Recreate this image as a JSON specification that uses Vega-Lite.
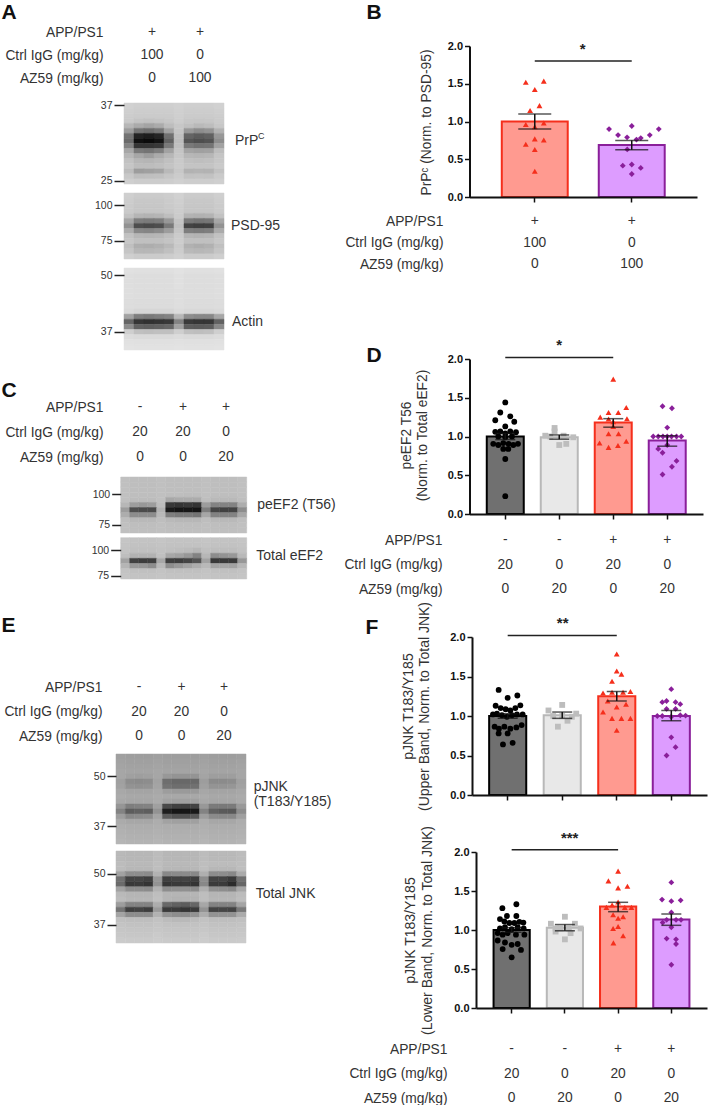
{"$schema":"https://vega.github.io/schema/vega-lite/v6.json","width":709,"height":1105,"autosize":"none","padding":0,"background":"white",
"config":{"font":"Liberation Sans","view":{"stroke":null},"axis":{"grid":false,"labelFont":"Liberation Sans","titleFont":"Liberation Sans"}},
"resolve":{"scale":{"x":"independent","y":"independent","fill":"independent","stroke":"independent","color":"independent","shape":"independent"},"axis":{"x":"independent","y":"independent"}},
"layer":[
{"data":{"values":[{"lane":"L1","row":"APP/PS1","v":"+"},{"lane":"L2","row":"APP/PS1","v":"+"},{"lane":"L1","row":"Ctrl IgG (mg/kg)","v":"100"},{"lane":"L2","row":"Ctrl IgG (mg/kg)","v":"0"},{"lane":"L1","row":"AZ59 (mg/kg)","v":"0"},{"lane":"L2","row":"AZ59 (mg/kg)","v":"100"}]},"mark":{"type":"text","fontSize":13.8,"color":"#333","baseline":"middle"},"encoding":{"x":{"field":"lane","type":"nominal","scale":{"type":"point","padding":0,"domain":["L1","L2"],"range":[152,200]},"axis":null},"y":{"field":"row","type":"nominal","scale":{"type":"point","padding":0,"domain":["APP/PS1","Ctrl IgG (mg/kg)","AZ59 (mg/kg)"],"range":[32,78]},"axis":{"orient":"left","offset":-103,"domain":false,"ticks":false,"tickSize":0,"labelPadding":0,"labelFontSize":13.8,"labelColor":"#333","labelLimit":300,"title":"A","titleAngle":0,"titleX":-102,"titleY":12,"titleAlign":"left","titleBaseline":"middle","titleFontSize":21,"titleFontWeight":"bold","titleColor":"#111"}},"text":{"field":"v","type":"nominal"}}},
{"layer":[
{"data":{"values":[
{"s":1,"a":214,"b":212,"c":212,"d":212,"e":212,"f":214,"g":212,"h":212,"i":212,"j":214},
{"s":2,"a":212,"b":210,"c":210,"d":210,"e":210,"f":213,"g":210,"h":210,"i":210,"j":212},
{"s":3,"a":210,"b":208,"c":208,"d":208,"e":208,"f":212,"g":208,"h":208,"i":208,"j":210},
{"s":4,"a":207,"b":202,"c":200,"d":202,"e":205,"f":210,"g":205,"h":204,"i":205,"j":208},
{"s":5,"a":190,"b":178,"c":172,"d":178,"e":195,"f":205,"g":198,"h":192,"i":195,"j":205},
{"s":6,"a":165,"b":125,"c":118,"d":128,"e":170,"f":203,"g":160,"h":150,"i":155,"j":185},
{"s":7,"a":125,"b":35,"c":28,"d":38,"e":120,"f":198,"g":108,"h":100,"i":105,"j":160},
{"s":8,"a":115,"b":12,"c":8,"d":15,"e":105,"f":195,"g":92,"h":85,"i":90,"j":150},
{"s":9,"a":140,"b":55,"c":55,"d":60,"e":130,"f":198,"g":130,"h":122,"i":125,"j":170},
{"s":10,"a":175,"b":130,"c":125,"d":135,"e":170,"f":203,"g":172,"h":168,"i":170,"j":195},
{"s":11,"a":190,"b":175,"c":165,"d":178,"e":190,"f":205,"g":190,"h":188,"i":190,"j":203},
{"s":12,"a":200,"b":190,"c":188,"d":192,"e":198,"f":207,"g":198,"h":196,"i":198,"j":205},
{"s":13,"a":204,"b":195,"c":195,"d":197,"e":202,"f":208,"g":202,"h":202,"i":202,"j":207},
{"s":14,"a":195,"b":165,"c":168,"d":172,"e":192,"f":206,"g":185,"h":187,"i":186,"j":200},
{"s":15,"a":206,"b":196,"c":197,"d":198,"e":204,"f":209,"g":200,"h":201,"i":200,"j":207},
{"s":16,"a":212,"b":209,"c":209,"d":209,"e":210,"f":213,"g":210,"h":210,"i":210,"j":212}]},
"transform":[{"fold":["a","b","c","d","e","f","g","h","i","j"],"as":["col","gray"]}],"mark":{"type":"rect","strokeWidth":0.5},"encoding":{"x":{"field":"col","type":"nominal","scale":{"type":"band","domain":["a","b","c","d","e","f","g","h","i","j","lab"],"range":[124,234],"padding":0},"axis":null},"y":{"field":"s","type":"ordinal","scale":{"type":"band","range":[103,184],"padding":0},"axis":{"orient":"left","offset":-124,"values":[1,16],"labelExpr":"datum.value==1?'37':'25'","domain":false,"tickSize":10,"tickWidth":1.5,"tickColor":"#222","labelPadding":2,"labelFontSize":10.5,"labelColor":"#333","title":null}},"fill":{"field":"gray","type":"quantitative","scale":{"domain":[0,255],"range":["#000","#fff"]},"legend":null},"stroke":{"field":"gray","type":"quantitative","scale":{"domain":[0,255],"range":["#000","#fff"]},"legend":null}}},
{"data":{"values":[{"name":"PrP","col":"lab","s":8}]},"mark":{"type":"text","fontSize":14,"color":"#333","align":"left","baseline":"middle","dx":6},"encoding":{"x":{"field":"col","type":"nominal","scale":{"type":"band"},"axis":null},"y":{"field":"s","type":"ordinal","scale":{"type":"band"}},"text":{"field":"name","type":"nominal"}}},
{"data":{"values":[{"name":"C","col":"lab","s":8}]},"mark":{"type":"text","fontSize":9,"color":"#333","align":"left","baseline":"middle","dx":29,"dy":-5},"encoding":{"x":{"field":"col","type":"nominal","scale":{"type":"band"},"axis":null},"y":{"field":"s","type":"ordinal","scale":{"type":"band"}},"text":{"field":"name","type":"nominal"}}}
]},
{"layer":[
{"data":{"values":[
{"s":1,"a":212,"b":208,"c":208,"d":208,"e":210,"f":214,"g":208,"h":208,"i":208,"j":212},
{"s":2,"a":210,"b":206,"c":206,"d":206,"e":208,"f":212,"g":206,"h":206,"i":206,"j":210},
{"s":3,"a":208,"b":205,"c":205,"d":205,"e":207,"f":211,"g":205,"h":205,"i":205,"j":208},
{"s":4,"a":207,"b":204,"c":204,"d":204,"e":206,"f":210,"g":204,"h":204,"i":204,"j":207},
{"s":5,"a":200,"b":188,"c":186,"d":188,"e":196,"f":208,"g":186,"h":184,"i":186,"j":200},
{"s":6,"a":175,"b":135,"c":132,"d":135,"e":160,"f":202,"g":130,"h":125,"i":128,"j":175},
{"s":7,"a":155,"b":85,"c":80,"d":85,"e":130,"f":198,"g":72,"h":68,"i":70,"j":155},
{"s":8,"a":180,"b":145,"c":142,"d":148,"e":165,"f":203,"g":135,"h":132,"i":135,"j":178},
{"s":9,"a":200,"b":190,"c":188,"d":190,"e":196,"f":208,"g":188,"h":186,"i":188,"j":200},
{"s":10,"a":205,"b":198,"c":198,"d":198,"e":202,"f":210,"g":198,"h":198,"i":198,"j":205},
{"s":11,"a":198,"b":182,"c":180,"d":184,"e":192,"f":207,"g":184,"h":180,"i":184,"j":198},
{"s":12,"a":203,"b":190,"c":190,"d":192,"e":198,"f":210,"g":192,"h":190,"i":192,"j":203},
{"s":13,"a":212,"b":208,"c":208,"d":208,"e":210,"f":214,"g":208,"h":208,"i":208,"j":212}]},
"transform":[{"fold":["a","b","c","d","e","f","g","h","i","j"],"as":["col","gray"]}],"mark":{"type":"rect","strokeWidth":0.5},"encoding":{"x":{"field":"col","type":"nominal","scale":{"type":"band","domain":["a","b","c","d","e","f","g","h","i","j","lab"],"range":[124,234],"padding":0},"axis":null},"y":{"field":"s","type":"ordinal","scale":{"type":"band","range":[193,259],"padding":0},"axis":{"orient":"left","offset":-124,"values":[3,10],"labelExpr":"datum.value==3?'100':'75'","domain":false,"tickSize":10,"tickWidth":1.5,"tickColor":"#222","labelPadding":2,"labelFontSize":10.5,"labelColor":"#333","title":null}},"fill":{"field":"gray","type":"quantitative","scale":{"domain":[0,255],"range":["#000","#fff"]},"legend":null},"stroke":{"field":"gray","type":"quantitative","scale":{"domain":[0,255],"range":["#000","#fff"]},"legend":null}}},
{"data":{"values":[{"name":"PSD-95","col":"lab","s":7}]},"mark":{"type":"text","fontSize":14,"color":"#333","align":"left","baseline":"middle","dx":2},"encoding":{"x":{"field":"col","type":"nominal","scale":{"type":"band"},"axis":null},"y":{"field":"s","type":"ordinal","scale":{"type":"band"}},"text":{"field":"name","type":"nominal"}}}
]},
{"layer":[
{"data":{"values":[
{"s":1,"a":228,"b":227,"c":227,"d":227,"e":227,"f":229,"g":227,"h":227,"i":227,"j":228},
{"s":2,"a":226,"b":225,"c":225,"d":225,"e":225,"f":227,"g":225,"h":225,"i":225,"j":226},
{"s":3,"a":226,"b":225,"c":225,"d":225,"e":225,"f":227,"g":225,"h":225,"i":225,"j":226},
{"s":4,"a":226,"b":225,"c":225,"d":225,"e":225,"f":227,"g":225,"h":225,"i":225,"j":226},
{"s":5,"a":226,"b":225,"c":225,"d":225,"e":225,"f":226,"g":225,"h":225,"i":225,"j":226},
{"s":6,"a":226,"b":225,"c":225,"d":225,"e":225,"f":226,"g":225,"h":225,"i":225,"j":226},
{"s":7,"a":225,"b":224,"c":224,"d":224,"e":224,"f":226,"g":224,"h":224,"i":224,"j":225},
{"s":8,"a":225,"b":224,"c":224,"d":224,"e":224,"f":226,"g":224,"h":224,"i":224,"j":225},
{"s":9,"a":222,"b":218,"c":218,"d":218,"e":218,"f":223,"g":220,"h":220,"i":220,"j":222},
{"s":10,"a":170,"b":135,"c":130,"d":135,"e":140,"f":190,"g":150,"h":145,"i":145,"j":175},
{"s":11,"a":110,"b":58,"c":52,"d":55,"e":60,"f":140,"g":62,"h":58,"i":58,"j":105},
{"s":12,"a":150,"b":105,"c":102,"d":105,"e":110,"f":170,"g":100,"h":98,"i":100,"j":145},
{"s":13,"a":212,"b":198,"c":196,"d":198,"e":198,"f":212,"g":198,"h":196,"i":198,"j":212},
{"s":14,"a":224,"b":222,"c":222,"d":222,"e":222,"f":224,"g":222,"h":222,"i":222,"j":224},
{"s":15,"a":228,"b":227,"c":227,"d":227,"e":227,"f":228,"g":227,"h":227,"i":227,"j":228},
{"s":16,"a":230,"b":229,"c":229,"d":229,"e":229,"f":230,"g":229,"h":229,"i":229,"j":230}]},
"transform":[{"fold":["a","b","c","d","e","f","g","h","i","j"],"as":["col","gray"]}],"mark":{"type":"rect","strokeWidth":0.5},"encoding":{"x":{"field":"col","type":"nominal","scale":{"type":"band","domain":["a","b","c","d","e","f","g","h","i","j","lab"],"range":[124,234],"padding":0},"axis":null},"y":{"field":"s","type":"ordinal","scale":{"type":"band","range":[268,350],"padding":0},"axis":{"orient":"left","offset":-124,"values":[2,13],"labelExpr":"datum.value==2?'50':'37'","domain":false,"tickSize":10,"tickWidth":1.5,"tickColor":"#222","labelPadding":2,"labelFontSize":10.5,"labelColor":"#333","title":null}},"fill":{"field":"gray","type":"quantitative","scale":{"domain":[0,255],"range":["#000","#fff"]},"legend":null},"stroke":{"field":"gray","type":"quantitative","scale":{"domain":[0,255],"range":["#000","#fff"]},"legend":null}}},
{"data":{"values":[{"name":"Actin","col":"lab","s":11}]},"mark":{"type":"text","fontSize":14,"color":"#333","align":"left","baseline":"middle","dx":3},"encoding":{"x":{"field":"col","type":"nominal","scale":{"type":"band"},"axis":null},"y":{"field":"s","type":"ordinal","scale":{"type":"band"}},"text":{"field":"name","type":"nominal"}}}
]},
{"data":{"values":[{"lane":"L1","row":"APP/PS1","v":"-"},{"lane":"L2","row":"APP/PS1","v":"+"},{"lane":"L3","row":"APP/PS1","v":"+"},{"lane":"L1","row":"Ctrl IgG (mg/kg)","v":"20"},{"lane":"L2","row":"Ctrl IgG (mg/kg)","v":"20"},{"lane":"L3","row":"Ctrl IgG (mg/kg)","v":"0"},{"lane":"L1","row":"AZ59 (mg/kg)","v":"0"},{"lane":"L2","row":"AZ59 (mg/kg)","v":"0"},{"lane":"L3","row":"AZ59 (mg/kg)","v":"20"}]},"mark":{"type":"text","fontSize":13.8,"color":"#333","baseline":"middle"},"encoding":{"x":{"field":"lane","type":"nominal","scale":{"type":"point","padding":0,"domain":["L1","L2","L3"],"range":[140,226]},"axis":null},"y":{"field":"row","type":"nominal","scale":{"type":"point","padding":0,"domain":["APP/PS1","Ctrl IgG (mg/kg)","AZ59 (mg/kg)"],"range":[407,457]},"axis":{"orient":"left","offset":-103,"domain":false,"ticks":false,"tickSize":0,"labelPadding":0,"labelFontSize":13.8,"labelColor":"#333","labelLimit":300,"title":"C","titleAngle":0,"titleX":-102,"titleY":390,"titleAlign":"left","titleBaseline":"middle","titleFontSize":21,"titleFontWeight":"bold","titleColor":"#111"}},"text":{"field":"v","type":"nominal"}}},
{"layer":[
{"data":{"values":[
{"s":1,"a":198,"b":196,"c":196,"d":196,"e":198,"f":196,"g":196,"h":196,"i":196,"j":198,"k":196,"l":196,"m":196,"n":198},
{"s":2,"a":198,"b":196,"c":196,"d":196,"e":198,"f":196,"g":196,"h":196,"i":196,"j":198,"k":196,"l":196,"m":196,"n":198},
{"s":3,"a":198,"b":196,"c":196,"d":196,"e":198,"f":196,"g":196,"h":196,"i":196,"j":198,"k":196,"l":196,"m":196,"n":198},
{"s":4,"a":198,"b":196,"c":196,"d":196,"e":198,"f":196,"g":196,"h":195,"i":195,"j":198,"k":196,"l":196,"m":196,"n":198},
{"s":5,"a":198,"b":194,"c":194,"d":194,"e":198,"f":175,"g":178,"h":178,"i":178,"j":196,"k":192,"l":192,"m":192,"n":196},
{"s":6,"a":190,"b":165,"c":160,"d":165,"e":195,"f":60,"g":55,"h":60,"i":55,"j":165,"k":140,"l":140,"m":140,"n":180},
{"s":7,"a":165,"b":85,"c":80,"d":80,"e":185,"f":25,"g":18,"h":20,"i":18,"j":135,"k":75,"l":70,"m":72,"n":150},
{"s":8,"a":180,"b":150,"c":150,"d":150,"e":192,"f":135,"g":130,"h":130,"i":125,"j":175,"k":140,"l":140,"m":140,"n":175},
{"s":9,"a":196,"b":192,"c":192,"d":192,"e":196,"f":192,"g":190,"h":190,"i":190,"j":196,"k":192,"l":192,"m":192,"n":196},
{"s":10,"a":198,"b":196,"c":196,"d":196,"e":198,"f":196,"g":196,"h":196,"i":196,"j":198,"k":196,"l":196,"m":196,"n":198},
{"s":11,"a":198,"b":197,"c":197,"d":197,"e":198,"f":197,"g":197,"h":197,"i":197,"j":198,"k":197,"l":197,"m":197,"n":198}]},
"transform":[{"fold":["a","b","c","d","e","f","g","h","i","j","k","l","m","n"],"as":["col","gray"]}],"mark":{"type":"rect","strokeWidth":0.5},"encoding":{"x":{"field":"col","type":"nominal","scale":{"type":"band","domain":["a","b","c","d","e","f","g","h","i","j","k","l","m","n","lab"],"range":[120.7,255.7],"padding":0},"axis":null},"y":{"field":"s","type":"ordinal","scale":{"type":"band","range":[477,533],"padding":0},"axis":{"orient":"left","offset":-120.7,"values":[4,10],"labelExpr":"datum.value==4?'100':'75'","domain":false,"tickSize":9,"tickWidth":1.5,"tickColor":"#222","labelPadding":2,"labelFontSize":10.5,"labelColor":"#333","title":null}},"fill":{"field":"gray","type":"quantitative","scale":{"domain":[0,255],"range":["#000","#fff"]},"legend":null},"stroke":{"field":"gray","type":"quantitative","scale":{"domain":[0,255],"range":["#000","#fff"]},"legend":null}}},
{"data":{"values":[{"name":"peEF2 (T56)","col":"lab","s":6}]},"mark":{"type":"text","fontSize":14,"color":"#333","align":"left","baseline":"middle","dx":6},"encoding":{"x":{"field":"col","type":"nominal","scale":{"type":"band"},"axis":null},"y":{"field":"s","type":"ordinal","scale":{"type":"band"}},"text":{"field":"name","type":"nominal"}}}
]},
{"layer":[
{"data":{"values":[
{"s":1,"a":203,"b":201,"c":201,"d":201,"e":203,"f":201,"g":201,"h":201,"i":201,"j":203,"k":201,"l":201,"m":201,"n":203},
{"s":2,"a":202,"b":200,"c":200,"d":200,"e":202,"f":200,"g":200,"h":200,"i":200,"j":202,"k":200,"l":200,"m":200,"n":202},
{"s":3,"a":201,"b":198,"c":198,"d":198,"e":200,"f":198,"g":196,"h":194,"i":190,"j":198,"k":196,"l":196,"m":196,"n":200},
{"s":4,"a":196,"b":185,"c":185,"d":185,"e":198,"f":175,"g":170,"h":160,"i":140,"j":190,"k":150,"l":155,"m":160,"n":192},
{"s":5,"a":170,"b":70,"c":66,"d":68,"e":175,"f":68,"g":66,"h":75,"i":90,"j":170,"k":60,"l":60,"m":62,"n":160},
{"s":6,"a":188,"b":160,"c":158,"d":150,"e":192,"f":150,"g":160,"h":170,"i":180,"j":192,"k":170,"l":172,"m":170,"n":190},
{"s":7,"a":201,"b":198,"c":198,"d":198,"e":201,"f":198,"g":198,"h":198,"i":198,"j":201,"k":198,"l":198,"m":198,"n":201},
{"s":8,"a":203,"b":201,"c":201,"d":201,"e":203,"f":201,"g":201,"h":201,"i":201,"j":203,"k":201,"l":201,"m":201,"n":203}]},
"transform":[{"fold":["a","b","c","d","e","f","g","h","i","j","k","l","m","n"],"as":["col","gray"]}],"mark":{"type":"rect","strokeWidth":0.5},"encoding":{"x":{"field":"col","type":"nominal","scale":{"type":"band","domain":["a","b","c","d","e","f","g","h","i","j","k","l","m","n","lab"],"range":[120.7,255.7],"padding":0},"axis":null},"y":{"field":"s","type":"ordinal","scale":{"type":"band","range":[537.7,579],"padding":0},"axis":{"orient":"left","offset":-120.7,"values":[3,8],"labelExpr":"datum.value==3?'100':'75'","domain":false,"tickSize":10,"tickWidth":1.5,"tickColor":"#222","labelPadding":2,"labelFontSize":10.5,"labelColor":"#333","title":null}},"fill":{"field":"gray","type":"quantitative","scale":{"domain":[0,255],"range":["#000","#fff"]},"legend":null},"stroke":{"field":"gray","type":"quantitative","scale":{"domain":[0,255],"range":["#000","#fff"]},"legend":null}}},
{"data":{"values":[{"name":"Total eEF2","col":"lab","s":4}]},"mark":{"type":"text","fontSize":14,"color":"#333","align":"left","baseline":"middle","dx":5},"encoding":{"x":{"field":"col","type":"nominal","scale":{"type":"band"},"axis":null},"y":{"field":"s","type":"ordinal","scale":{"type":"band"}},"text":{"field":"name","type":"nominal"}}}
]},
{"data":{"values":[{"lane":"L1","row":"APP/PS1","v":"-"},{"lane":"L2","row":"APP/PS1","v":"+"},{"lane":"L3","row":"APP/PS1","v":"+"},{"lane":"L1","row":"Ctrl IgG (mg/kg)","v":"20"},{"lane":"L2","row":"Ctrl IgG (mg/kg)","v":"20"},{"lane":"L3","row":"Ctrl IgG (mg/kg)","v":"0"},{"lane":"L1","row":"AZ59 (mg/kg)","v":"0"},{"lane":"L2","row":"AZ59 (mg/kg)","v":"0"},{"lane":"L3","row":"AZ59 (mg/kg)","v":"20"}]},"mark":{"type":"text","fontSize":13.8,"color":"#333","baseline":"middle"},"encoding":{"x":{"field":"lane","type":"nominal","scale":{"type":"point","padding":0,"domain":["L1","L2","L3"],"range":[139,224]},"axis":null},"y":{"field":"row","type":"nominal","scale":{"type":"point","padding":0,"domain":["APP/PS1","Ctrl IgG (mg/kg)","AZ59 (mg/kg)"],"range":[687,736]},"axis":{"orient":"left","offset":-102,"domain":false,"ticks":false,"tickSize":0,"labelPadding":0,"labelFontSize":13.8,"labelColor":"#333","labelLimit":300,"title":"E","titleAngle":0,"titleX":-101,"titleY":625,"titleAlign":"left","titleBaseline":"middle","titleFontSize":21,"titleFontWeight":"bold","titleColor":"#111"}},"text":{"field":"v","type":"nominal"}}},
{"layer":[
{"data":{"values":[
{"s":1,"a":168,"b":166,"c":166,"d":166,"e":168,"f":166,"g":166,"h":166,"i":166,"j":168,"k":166,"l":166,"m":166,"n":168},
{"s":2,"a":170,"b":168,"c":168,"d":168,"e":170,"f":168,"g":168,"h":168,"i":168,"j":170,"k":168,"l":168,"m":168,"n":170},
{"s":3,"a":172,"b":170,"c":170,"d":170,"e":172,"f":170,"g":170,"h":170,"i":170,"j":172,"k":170,"l":170,"m":170,"n":172},
{"s":4,"a":174,"b":172,"c":172,"d":172,"e":174,"f":172,"g":172,"h":172,"i":172,"j":174,"k":172,"l":172,"m":172,"n":174},
{"s":5,"a":174,"b":168,"c":166,"d":168,"e":174,"f":160,"g":156,"h":156,"i":156,"j":172,"k":166,"l":166,"m":166,"n":174},
{"s":6,"a":168,"b":150,"c":148,"d":150,"e":170,"f":118,"g":112,"h":112,"i":112,"j":165,"k":148,"l":148,"m":150,"n":168},
{"s":7,"a":170,"b":155,"c":153,"d":155,"e":172,"f":124,"g":118,"h":118,"i":120,"j":168,"k":156,"l":156,"m":158,"n":170},
{"s":8,"a":176,"b":172,"c":172,"d":172,"e":176,"f":165,"g":162,"h":162,"i":162,"j":175,"k":172,"l":172,"m":172,"n":176},
{"s":9,"a":178,"b":176,"c":176,"d":176,"e":178,"f":176,"g":176,"h":176,"i":176,"j":178,"k":176,"l":176,"m":176,"n":178},
{"s":10,"a":176,"b":174,"c":174,"d":174,"e":178,"f":170,"g":168,"h":168,"i":168,"j":176,"k":174,"l":174,"m":174,"n":178},
{"s":11,"a":158,"b":135,"c":138,"d":140,"e":168,"f":80,"g":70,"h":68,"i":72,"j":160,"k":132,"l":130,"m":132,"n":162},
{"s":12,"a":140,"b":100,"c":105,"d":102,"e":155,"f":30,"g":20,"h":18,"i":22,"j":140,"k":105,"l":98,"m":95,"n":150},
{"s":13,"a":165,"b":145,"c":148,"d":150,"e":172,"f":100,"g":90,"h":88,"i":95,"j":165,"k":148,"l":145,"m":145,"n":168},
{"s":14,"a":178,"b":175,"c":175,"d":175,"e":180,"f":170,"g":168,"h":168,"i":168,"j":180,"k":175,"l":175,"m":175,"n":180},
{"s":15,"a":182,"b":180,"c":180,"d":180,"e":182,"f":180,"g":180,"h":180,"i":180,"j":182,"k":180,"l":180,"m":180,"n":182},
{"s":16,"a":184,"b":182,"c":182,"d":182,"e":184,"f":182,"g":182,"h":182,"i":182,"j":184,"k":182,"l":182,"m":182,"n":184},
{"s":17,"a":186,"b":184,"c":184,"d":184,"e":186,"f":184,"g":184,"h":184,"i":184,"j":186,"k":184,"l":184,"m":184,"n":186},
{"s":18,"a":188,"b":186,"c":186,"d":186,"e":188,"f":186,"g":186,"h":186,"i":186,"j":188,"k":186,"l":186,"m":186,"n":188}]},
"transform":[{"fold":["a","b","c","d","e","f","g","h","i","j","k","l","m","n"],"as":["col","gray"]}],"mark":{"type":"rect","strokeWidth":0.5},"encoding":{"x":{"field":"col","type":"nominal","scale":{"type":"band","domain":["a","b","c","d","e","f","g","h","i","j","k","l","m","n","lab"],"range":[116,255.3],"padding":0},"axis":null},"y":{"field":"s","type":"ordinal","scale":{"type":"band","range":[754,844],"padding":0},"axis":{"orient":"left","offset":-116,"values":[5,15],"labelExpr":"datum.value==5?'50':'37'","domain":false,"tickSize":9,"tickWidth":1.5,"tickColor":"#222","labelPadding":2,"labelFontSize":10.5,"labelColor":"#333","title":null}},"fill":{"field":"gray","type":"quantitative","scale":{"domain":[0,255],"range":["#000","#fff"]},"legend":null},"stroke":{"field":"gray","type":"quantitative","scale":{"domain":[0,255],"range":["#000","#fff"]},"legend":null}}},
{"data":{"values":[{"name":"pJNK","col":"lab","s":7},{"name":"(T183/Y185)","col":"lab","s":10}]},"mark":{"type":"text","fontSize":14,"color":"#333","align":"left","baseline":"middle","dx":3},"encoding":{"x":{"field":"col","type":"nominal","scale":{"type":"band"},"axis":null},"y":{"field":"s","type":"ordinal","scale":{"type":"band"}},"text":{"field":"name","type":"nominal"}}}
]},
{"layer":[
{"data":{"values":[
{"s":1,"a":192,"b":190,"c":190,"d":190,"e":194,"f":190,"g":190,"h":190,"i":190,"j":194,"k":192,"l":192,"m":192,"n":194},
{"s":2,"a":192,"b":190,"c":190,"d":190,"e":194,"f":190,"g":190,"h":190,"i":190,"j":194,"k":192,"l":192,"m":192,"n":194},
{"s":3,"a":194,"b":192,"c":192,"d":192,"e":196,"f":192,"g":192,"h":192,"i":192,"j":196,"k":194,"l":194,"m":194,"n":196},
{"s":4,"a":194,"b":190,"c":190,"d":190,"e":196,"f":190,"g":190,"h":190,"i":190,"j":196,"k":190,"l":190,"m":190,"n":196},
{"s":5,"a":170,"b":150,"c":150,"d":148,"e":185,"f":145,"g":148,"h":148,"i":145,"j":182,"k":150,"l":150,"m":145,"n":178},
{"s":6,"a":120,"b":72,"c":74,"d":68,"e":160,"f":68,"g":72,"h":72,"i":66,"j":150,"k":72,"l":74,"m":62,"n":120},
{"s":7,"a":115,"b":60,"c":62,"d":55,"e":155,"f":58,"g":62,"h":62,"i":55,"j":145,"k":62,"l":62,"m":45,"n":110},
{"s":8,"a":170,"b":150,"c":150,"d":148,"e":185,"f":150,"g":152,"h":152,"i":148,"j":182,"k":152,"l":150,"m":145,"n":175},
{"s":9,"a":192,"b":188,"c":188,"d":188,"e":196,"f":188,"g":188,"h":188,"i":188,"j":196,"k":188,"l":188,"m":188,"n":194},
{"s":10,"a":194,"b":190,"c":190,"d":190,"e":198,"f":188,"g":186,"h":186,"i":186,"j":196,"k":190,"l":190,"m":190,"n":196},
{"s":11,"a":165,"b":140,"c":140,"d":140,"e":180,"f":112,"g":105,"h":100,"i":110,"j":175,"k":140,"l":140,"m":140,"n":172},
{"s":12,"a":125,"b":68,"c":72,"d":66,"e":162,"f":62,"g":62,"h":55,"i":62,"j":155,"k":72,"l":75,"m":72,"n":130},
{"s":13,"a":172,"b":150,"c":150,"d":150,"e":185,"f":155,"g":150,"h":148,"i":155,"j":180,"k":155,"l":155,"m":155,"n":178},
{"s":14,"a":198,"b":196,"c":196,"d":196,"e":200,"f":194,"g":192,"h":192,"i":194,"j":200,"k":196,"l":196,"m":196,"n":198},
{"s":15,"a":202,"b":200,"c":200,"d":200,"e":203,"f":200,"g":200,"h":200,"i":200,"j":203,"k":200,"l":200,"m":200,"n":202},
{"s":16,"a":204,"b":203,"c":203,"d":203,"e":205,"f":203,"g":203,"h":203,"i":203,"j":205,"k":203,"l":203,"m":203,"n":204},
{"s":17,"a":206,"b":205,"c":205,"d":205,"e":207,"f":205,"g":205,"h":205,"i":205,"j":207,"k":205,"l":205,"m":205,"n":206},
{"s":18,"a":208,"b":207,"c":207,"d":207,"e":209,"f":207,"g":207,"h":207,"i":207,"j":209,"k":207,"l":207,"m":207,"n":208}]},
"transform":[{"fold":["a","b","c","d","e","f","g","h","i","j","k","l","m","n"],"as":["col","gray"]}],"mark":{"type":"rect","strokeWidth":0.5},"encoding":{"x":{"field":"col","type":"nominal","scale":{"type":"band","domain":["a","b","c","d","e","f","g","h","i","j","k","l","m","n","lab"],"range":[116,255.3],"padding":0},"axis":null},"y":{"field":"s","type":"ordinal","scale":{"type":"band","range":[851,943],"padding":0},"axis":{"orient":"left","offset":-116,"values":[5,15],"labelExpr":"datum.value==5?'50':'37'","domain":false,"tickSize":9,"tickWidth":1.5,"tickColor":"#222","labelPadding":2,"labelFontSize":10.5,"labelColor":"#333","title":null}},"fill":{"field":"gray","type":"quantitative","scale":{"domain":[0,255],"range":["#000","#fff"]},"legend":null},"stroke":{"field":"gray","type":"quantitative","scale":{"domain":[0,255],"range":["#000","#fff"]},"legend":null}}},
{"data":{"values":[{"name":"Total JNK","col":"lab","s":9}]},"mark":{"type":"text","fontSize":14,"color":"#333","align":"left","baseline":"middle","dx":5},"encoding":{"x":{"field":"col","type":"nominal","scale":{"type":"band"},"axis":null},"y":{"field":"s","type":"ordinal","scale":{"type":"band"}},"text":{"field":"name","type":"nominal"}}}
]},
{"resolve":{"scale":{"y":"independent"},"axis":{"y":"independent"}},"layer":[
{"resolve":{"scale":{"xOffset":"independent"}},"layer":[
{"data":{"values":[{"group":"APP IgG","mean":1.0},{"group":"APP AZ59","mean":0.69}]},"mark":{"type":"bar","strokeWidth":2,"width":{"band":1}},"encoding":{"x":{"field":"group","type":"nominal","scale":{"type":"band","domain":["APP IgG","APP AZ59"],"range":[469.5,697],"paddingInner":0.32,"paddingOuter":0.333},"axis":{"orient":"bottom","offset":-908,"labels":false,"title":null,"domainWidth":2,"domainColor":"#111","tickColor":"#111","tickWidth":1.5,"tickSize":5,"zindex":1}},"y":{"field":"mean","type":"quantitative","stack":null,"scale":{"domain":[0,2],"range":[197,46],"nice":false},"axis":{"orient":"left","offset":-469.5,"values":[0,0.5,1,1.5,2],"format":".1f","domainWidth":2,"domainColor":"#111","tickColor":"#111","tickWidth":1.5,"tickSize":5,"labelFontSize":11,"labelFontWeight":"bold","labelColor":"#111","labelPadding":2,"zindex":1,"title":"PrPᶜ  (Norm. to PSD-95)","titleFontSize":13.8,"titleFontWeight":"normal","titleColor":"#333","titleX":-36,"titleY":122,"titleBaseline":"bottom"}},"fill":{"field":"group","type":"nominal","scale":{"domain":["APP IgG","APP AZ59"],"range":["#ff9a90","#dd9cff"]},"legend":null},"stroke":{"field":"group","type":"nominal","scale":{"domain":["APP IgG","APP AZ59"],"range":["#f52f1c","#8a1f9a"]},"legend":null}}},
{"data":{"values":[{"group":"APP IgG","v":1.52,"off":-9},{"group":"APP IgG","v":1.535,"off":9},{"group":"APP IgG","v":1.425,"off":0},{"group":"APP IgG","v":1.21,"off":4.7},{"group":"APP IgG","v":1.146,"off":-4.7},{"group":"APP IgG","v":0.96,"off":-9},{"group":"APP IgG","v":0.98,"off":9},{"group":"APP IgG","v":0.93,"off":0},{"group":"APP IgG","v":0.7,"off":-9},{"group":"APP IgG","v":0.77,"off":0},{"group":"APP IgG","v":0.755,"off":9},{"group":"APP IgG","v":0.63,"off":0},{"group":"APP IgG","v":0.34,"off":0},{"group":"APP AZ59","v":0.9,"off":-22.7},{"group":"APP AZ59","v":0.94,"off":0},{"group":"APP AZ59","v":0.9,"off":27},{"group":"APP AZ59","v":0.82,"off":-13.7},{"group":"APP AZ59","v":0.79,"off":-4.7},{"group":"APP AZ59","v":0.78,"off":9},{"group":"APP AZ59","v":0.82,"off":18},{"group":"APP AZ59","v":0.76,"off":4.7},{"group":"APP AZ59","v":0.63,"off":-4.5},{"group":"APP AZ59","v":0.415,"off":-9},{"group":"APP AZ59","v":0.43,"off":0},{"group":"APP AZ59","v":0.385,"off":9},{"group":"APP AZ59","v":0.305,"off":0}]},"mark":{"type":"point","filled":true,"size":34,"opacity":1},"encoding":{"x":{"field":"group","type":"nominal","scale":{"type":"band"}},"xOffset":{"field":"off","type":"quantitative","scale":{"domain":[-50,50],"range":[-17,83]}},"y":{"field":"v","type":"quantitative"},"color":{"field":"group","type":"nominal","scale":{"domain":["APP IgG","APP AZ59"],"range":["#f52f1c","#8a1f9a"]},"legend":null},"shape":{"field":"group","type":"nominal","scale":{"domain":["APP IgG","APP AZ59"],"range":["triangle-up","diamond"]},"legend":null}}},
{"data":{"values":[{"group":"APP IgG","lo":0.9,"hi":1.1},{"group":"APP AZ59","lo":0.625,"hi":0.75}]},"layer":[{"mark":{"type":"rule","color":"#111","strokeWidth":1.5},"encoding":{"x":{"field":"group","type":"nominal","scale":{"type":"band"}},"y":{"field":"lo","type":"quantitative"},"y2":{"field":"hi"}}},{"mark":{"type":"tick","color":"#111","size":33,"thickness":1.5},"encoding":{"x":{"field":"group","type":"nominal","scale":{"type":"band"}},"y":{"field":"lo","type":"quantitative"}}},{"mark":{"type":"tick","color":"#111","size":33,"thickness":1.5},"encoding":{"x":{"field":"group","type":"nominal","scale":{"type":"band"}},"y":{"field":"hi","type":"quantitative"}}}]},
{"data":{"values":[{"from":"APP IgG","to":"APP AZ59","y":1.8,"star":"*"}]},"layer":[{"mark":{"type":"rule","color":"#222","strokeWidth":1.5},"encoding":{"x":{"field":"from","type":"nominal","scale":{"type":"band"}},"x2":{"field":"to"},"y":{"field":"y","type":"quantitative"}}},{"mark":{"type":"text","fontSize":15,"fontWeight":"bold","color":"#222","dx":48,"dy":-12,"baseline":"middle"},"encoding":{"x":{"field":"from","type":"nominal","scale":{"type":"band"}},"y":{"field":"y","type":"quantitative"},"text":{"field":"star","type":"nominal"}}}]}
]},
{"data":{"values":[{"group":"APP IgG","row":"APP/PS1","v":"+"},{"group":"APP AZ59","row":"APP/PS1","v":"+"},{"group":"APP IgG","row":"Ctrl IgG (mg/kg)","v":"100"},{"group":"APP AZ59","row":"Ctrl IgG (mg/kg)","v":"0"},{"group":"APP IgG","row":"AZ59 (mg/kg)","v":"0"},{"group":"APP AZ59","row":"AZ59 (mg/kg)","v":"100"}]},"mark":{"type":"text","fontSize":13.8,"color":"#333","baseline":"middle"},"encoding":{"x":{"field":"group","type":"nominal","scale":{"type":"band"}},"y":{"field":"row","type":"nominal","scale":{"type":"point","padding":0,"domain":["APP/PS1","Ctrl IgG (mg/kg)","AZ59 (mg/kg)"],"range":[221,264]},"axis":{"orient":"left","offset":-469.5,"domain":false,"ticks":false,"tickSize":0,"labelPadding":26.5,"labelFontSize":13.8,"labelColor":"#333","labelLimit":300,"title":"B","titleAngle":0,"titleX":-103.5,"titleY":12,"titleAlign":"left","titleBaseline":"middle","titleFontSize":21,"titleFontWeight":"bold","titleColor":"#111"}},"text":{"field":"v","type":"nominal"}}}
]},
{"resolve":{"scale":{"y":"independent"},"axis":{"y":"independent"}},"layer":[
{"resolve":{"scale":{"xOffset":"independent"}},"layer":[
{"data":{"values":[{"group":"WT IgG","mean":1.0},{"group":"WT AZ59","mean":0.99},{"group":"APP IgG","mean":1.18},{"group":"APP AZ59","mean":0.95}]},"mark":{"type":"bar","strokeWidth":2,"width":{"band":1}},"encoding":{"x":{"field":"group","type":"nominal","scale":{"type":"band","domain":["WT IgG","WT AZ59","APP IgG","APP AZ59"],"range":[469.5,703],"paddingInner":0.315,"paddingOuter":0.32},"axis":{"orient":"bottom","offset":-591,"labels":false,"title":null,"domainWidth":2,"domainColor":"#111","tickColor":"#111","tickWidth":1.5,"tickSize":5,"zindex":1}},"y":{"field":"mean","type":"quantitative","stack":null,"scale":{"domain":[0,2],"range":[514,359],"nice":false},"axis":{"orient":"left","offset":-469.5,"values":[0,0.5,1,1.5,2],"format":".1f","domainWidth":2,"domainColor":"#111","tickColor":"#111","tickWidth":1.5,"tickSize":5,"labelFontSize":11,"labelFontWeight":"bold","labelColor":"#111","labelPadding":2,"zindex":1,"title":["peEF2 T56","(Norm. to Total eEF2)"],"titleFontSize":13.8,"titleFontWeight":"normal","titleColor":"#333","titleLineHeight":16,"titleX":-56,"titleY":435,"titleBaseline":"bottom"}},"fill":{"field":"group","type":"nominal","scale":{"domain":["WT IgG","WT AZ59","APP IgG","APP AZ59"],"range":["#707070","#e8e8e8","#ff9a90","#dd9cff"]},"legend":null},"stroke":{"field":"group","type":"nominal","scale":{"domain":["WT IgG","WT AZ59","APP IgG","APP AZ59"],"range":["#000000","#b8b8b8","#f52f1c","#8a1f9a"]},"legend":null}}},
{"data":{"values":[{"group":"WT IgG","v":1.44,"off":0},{"group":"WT IgG","v":1.31,"off":-5},{"group":"WT IgG","v":1.26,"off":5},{"group":"WT IgG","v":1.21,"off":-10},{"group":"WT IgG","v":1.19,"off":9},{"group":"WT IgG","v":1.13,"off":0},{"group":"WT IgG","v":1.06,"off":-10},{"group":"WT IgG","v":1.065,"off":-5},{"group":"WT IgG","v":1.04,"off":0},{"group":"WT IgG","v":1.065,"off":5},{"group":"WT IgG","v":1.055,"off":10.7},{"group":"WT IgG","v":1.0,"off":-7},{"group":"WT IgG","v":0.99,"off":0},{"group":"WT IgG","v":1.0,"off":6.7},{"group":"WT IgG","v":0.905,"off":-12},{"group":"WT IgG","v":0.89,"off":-7},{"group":"WT IgG","v":0.915,"off":-2},{"group":"WT IgG","v":0.905,"off":3.3},{"group":"WT IgG","v":0.89,"off":8},{"group":"WT IgG","v":0.905,"off":12.7},{"group":"WT IgG","v":0.84,"off":-2},{"group":"WT IgG","v":0.84,"off":3},{"group":"WT IgG","v":0.71,"off":0},{"group":"WT IgG","v":0.23,"off":0},
{"group":"WT AZ59","v":1.11,"off":-4.7},{"group":"WT AZ59","v":1.065,"off":-4.7},{"group":"WT AZ59","v":1.01,"off":-14},{"group":"WT AZ59","v":1.0,"off":-9},{"group":"WT AZ59","v":1.01,"off":4.3},{"group":"WT AZ59","v":0.99,"off":14},{"group":"WT AZ59","v":0.89,"off":0},{"group":"WT AZ59","v":0.905,"off":7},
{"group":"APP IgG","v":1.74,"off":0},{"group":"APP IgG","v":1.375,"off":13},{"group":"APP IgG","v":1.31,"off":5},{"group":"APP IgG","v":1.31,"off":-4.7},{"group":"APP IgG","v":1.25,"off":-13},{"group":"APP IgG","v":1.23,"off":13.7},{"group":"APP IgG","v":1.225,"off":-4.7},{"group":"APP IgG","v":1.13,"off":0},{"group":"APP IgG","v":1.035,"off":-4.7},{"group":"APP IgG","v":1.035,"off":5.3},{"group":"APP IgG","v":0.915,"off":-13.7},{"group":"APP IgG","v":0.94,"off":13},{"group":"APP IgG","v":0.885,"off":4.7},{"group":"APP IgG","v":0.86,"off":-4.7},{"group":"APP IgG","v":1.19,"off":0},
{"group":"APP AZ59","v":1.39,"off":-4.7},{"group":"APP AZ59","v":1.365,"off":4.7},{"group":"APP AZ59","v":1.115,"off":0},{"group":"APP AZ59","v":1.0,"off":-14},{"group":"APP AZ59","v":1.0,"off":-9},{"group":"APP AZ59","v":1.0,"off":-4.3},{"group":"APP AZ59","v":1.0,"off":0},{"group":"APP AZ59","v":1.0,"off":4.3},{"group":"APP AZ59","v":1.0,"off":9.3},{"group":"APP AZ59","v":1.0,"off":14},{"group":"APP AZ59","v":0.84,"off":-9},{"group":"APP AZ59","v":0.79,"off":-4.7},{"group":"APP AZ59","v":0.685,"off":9.3},{"group":"APP AZ59","v":0.61,"off":4.7},{"group":"APP AZ59","v":0.51,"off":-4.7},{"group":"APP AZ59","v":0.89,"off":0}]},"mark":{"type":"point","filled":true,"size":34,"opacity":1},"encoding":{"x":{"field":"group","type":"nominal","scale":{"type":"band"}},"xOffset":{"field":"off","type":"quantitative","scale":{"domain":[-50,50],"range":[-31.5,68.5]}},"y":{"field":"v","type":"quantitative"},"color":{"field":"group","type":"nominal","scale":{"domain":["WT IgG","WT AZ59","APP IgG","APP AZ59"],"range":["#000000","#bdbdbd","#f52f1c","#8a1f9a"]},"legend":null},"shape":{"field":"group","type":"nominal","scale":{"domain":["WT IgG","WT AZ59","APP IgG","APP AZ59"],"range":["circle","square","triangle-up","diamond"]},"legend":null}}},
{"data":{"values":[{"group":"WT IgG","lo":0.96,"hi":1.04},{"group":"WT AZ59","lo":0.965,"hi":1.02},{"group":"APP IgG","lo":1.12,"hi":1.23},{"group":"APP AZ59","lo":0.875,"hi":1.01}]},"layer":[{"mark":{"type":"rule","color":"#111","strokeWidth":1.5},"encoding":{"x":{"field":"group","type":"nominal","scale":{"type":"band"}},"y":{"field":"lo","type":"quantitative"},"y2":{"field":"hi"}}},{"mark":{"type":"tick","color":"#111","size":20,"thickness":1.5},"encoding":{"x":{"field":"group","type":"nominal","scale":{"type":"band"}},"y":{"field":"lo","type":"quantitative"}}},{"mark":{"type":"tick","color":"#111","size":20,"thickness":1.5},"encoding":{"x":{"field":"group","type":"nominal","scale":{"type":"band"}},"y":{"field":"hi","type":"quantitative"}}}]},
{"data":{"values":[{"from":"WT IgG","to":"APP IgG","y":2.02,"star":"*"}]},"layer":[{"mark":{"type":"rule","color":"#222","strokeWidth":1.5},"encoding":{"x":{"field":"from","type":"nominal","scale":{"type":"band"}},"x2":{"field":"to"},"y":{"field":"y","type":"quantitative"}}},{"mark":{"type":"text","fontSize":15,"fontWeight":"bold","color":"#222","dx":54,"dy":-12,"baseline":"middle"},"encoding":{"x":{"field":"from","type":"nominal","scale":{"type":"band"}},"y":{"field":"y","type":"quantitative"},"text":{"field":"star","type":"nominal"}}}]}
]},
{"data":{"values":[{"group":"WT IgG","row":"APP/PS1","v":"-"},{"group":"WT AZ59","row":"APP/PS1","v":"-"},{"group":"APP IgG","row":"APP/PS1","v":"+"},{"group":"APP AZ59","row":"APP/PS1","v":"+"},{"group":"WT IgG","row":"Ctrl IgG (mg/kg)","v":"20"},{"group":"WT AZ59","row":"Ctrl IgG (mg/kg)","v":"0"},{"group":"APP IgG","row":"Ctrl IgG (mg/kg)","v":"20"},{"group":"APP AZ59","row":"Ctrl IgG (mg/kg)","v":"0"},{"group":"WT IgG","row":"AZ59 (mg/kg)","v":"0"},{"group":"WT AZ59","row":"AZ59 (mg/kg)","v":"20"},{"group":"APP IgG","row":"AZ59 (mg/kg)","v":"0"},{"group":"APP AZ59","row":"AZ59 (mg/kg)","v":"20"}]},"mark":{"type":"text","fontSize":13.8,"color":"#333","baseline":"middle"},"encoding":{"x":{"field":"group","type":"nominal","scale":{"type":"band"}},"y":{"field":"row","type":"nominal","scale":{"type":"point","padding":0,"domain":["APP/PS1","Ctrl IgG (mg/kg)","AZ59 (mg/kg)"],"range":[540,589]},"axis":{"orient":"left","offset":-469.5,"domain":false,"ticks":false,"tickSize":0,"labelPadding":27.5,"labelFontSize":13.8,"labelColor":"#333","labelLimit":300,"title":"D","titleAngle":0,"titleX":-103.5,"titleY":355,"titleAlign":"left","titleBaseline":"middle","titleFontSize":21,"titleFontWeight":"bold","titleColor":"#111"}},"text":{"field":"v","type":"nominal"}}}
]},
{"resolve":{"scale":{"xOffset":"independent"}},"layer":[
{"data":{"values":[{"group":"WT IgG","mean":1.0},{"group":"WT AZ59","mean":1.01},{"group":"APP IgG","mean":1.25},{"group":"APP AZ59","mean":1.0}]},"mark":{"type":"bar","strokeWidth":2,"width":{"band":1}},"encoding":{"x":{"field":"group","type":"nominal","scale":{"type":"band","domain":["WT IgG","WT AZ59","APP IgG","APP AZ59"],"range":[472,707],"paddingInner":0.32,"paddingOuter":0.3145},"axis":{"orient":"bottom","offset":-310,"labels":false,"title":null,"domainWidth":2,"domainColor":"#111","tickColor":"#111","tickWidth":1.5,"tickSize":5,"zindex":1}},"y":{"field":"mean","type":"quantitative","stack":null,"scale":{"domain":[0,2],"range":[795,637],"nice":false},"axis":{"orient":"left","offset":-472,"values":[0,0.5,1,1.5,2],"format":".1f","domainWidth":2,"domainColor":"#111","tickColor":"#111","tickWidth":1.5,"tickSize":5,"labelFontSize":11,"labelFontWeight":"bold","labelColor":"#111","labelPadding":2,"zindex":1,"title":["pJNK T183/Y185","(Upper Band, Norm. to Total JNK)"],"titleFontSize":14,"titleFontWeight":"normal","titleColor":"#333","titleLineHeight":16,"titleX":-56.5,"titleY":706,"titleBaseline":"bottom"}},"fill":{"field":"group","type":"nominal","scale":{"domain":["WT IgG","WT AZ59","APP IgG","APP AZ59"],"range":["#707070","#e8e8e8","#ff9a90","#dd9cff"]},"legend":null},"stroke":{"field":"group","type":"nominal","scale":{"domain":["WT IgG","WT AZ59","APP IgG","APP AZ59"],"range":["#000000","#b8b8b8","#f52f1c","#8a1f9a"]},"legend":null}}},
{"data":{"values":[{"group":"WT IgG","v":1.33,"off":-9},{"group":"WT IgG","v":1.26,"off":9.7},{"group":"WT IgG","v":1.23,"off":0},{"group":"WT IgG","v":1.13,"off":-12},{"group":"WT IgG","v":1.1,"off":-7},{"group":"WT IgG","v":1.085,"off":-2},{"group":"WT IgG","v":1.07,"off":2.7},{"group":"WT IgG","v":1.1,"off":7.7},{"group":"WT IgG","v":1.135,"off":12.7},{"group":"WT IgG","v":1.02,"off":-14.7},{"group":"WT IgG","v":1.03,"off":-10.7},{"group":"WT IgG","v":1.01,"off":-5.7},{"group":"WT IgG","v":0.99,"off":-0.7},{"group":"WT IgG","v":1.01,"off":4.3},{"group":"WT IgG","v":1.02,"off":9.3},{"group":"WT IgG","v":1.02,"off":15},{"group":"WT IgG","v":0.865,"off":-13},{"group":"WT IgG","v":0.84,"off":-8.7},{"group":"WT IgG","v":0.865,"off":-3.3},{"group":"WT IgG","v":0.84,"off":2.7},{"group":"WT IgG","v":0.855,"off":8.7},{"group":"WT IgG","v":0.885,"off":14},{"group":"WT IgG","v":0.78,"off":-9},{"group":"WT IgG","v":0.78,"off":0},{"group":"WT IgG","v":0.64,"off":-4.7},{"group":"WT IgG","v":0.66,"off":5},
{"group":"WT AZ59","v":1.14,"off":0},{"group":"WT AZ59","v":1.07,"off":-13.7},{"group":"WT AZ59","v":1.03,"off":14},{"group":"WT AZ59","v":1.0,"off":-9},{"group":"WT AZ59","v":1.0,"off":0},{"group":"WT AZ59","v":0.99,"off":9.7},{"group":"WT AZ59","v":0.94,"off":5.3},{"group":"WT AZ59","v":0.865,"off":-4.3},
{"group":"APP IgG","v":1.785,"off":0},{"group":"APP IgG","v":1.57,"off":0},{"group":"APP IgG","v":1.53,"off":4.7},{"group":"APP IgG","v":1.44,"off":-4.7},{"group":"APP IgG","v":1.29,"off":-13.7},{"group":"APP IgG","v":1.3,"off":-4.7},{"group":"APP IgG","v":1.3,"off":6.3},{"group":"APP IgG","v":1.31,"off":13.7},{"group":"APP IgG","v":1.19,"off":-9},{"group":"APP IgG","v":1.115,"off":0},{"group":"APP IgG","v":1.15,"off":9.3},{"group":"APP IgG","v":1.05,"off":-13.7},{"group":"APP IgG","v":0.97,"off":-4.7},{"group":"APP IgG","v":0.97,"off":4.7},{"group":"APP IgG","v":0.97,"off":13.7},{"group":"APP IgG","v":0.82,"off":0},
{"group":"APP AZ59","v":1.34,"off":0},{"group":"APP AZ59","v":1.175,"off":-9},{"group":"APP AZ59","v":1.19,"off":-4.7},{"group":"APP AZ59","v":1.175,"off":4.3},{"group":"APP AZ59","v":1.15,"off":9},{"group":"APP AZ59","v":1.09,"off":-4.7},{"group":"APP AZ59","v":1.09,"off":4.3},{"group":"APP AZ59","v":1.0,"off":-14},{"group":"APP AZ59","v":1.0,"off":-9},{"group":"APP AZ59","v":0.99,"off":0},{"group":"APP AZ59","v":1.01,"off":9},{"group":"APP AZ59","v":1.005,"off":14.3},{"group":"APP AZ59","v":0.73,"off":0},{"group":"APP AZ59","v":0.605,"off":4.3},{"group":"APP AZ59","v":0.5,"off":-4.7}]},"mark":{"type":"point","filled":true,"size":34,"opacity":1},"encoding":{"x":{"field":"group","type":"nominal","scale":{"type":"band"}},"xOffset":{"field":"off","type":"quantitative","scale":{"domain":[-50,50],"range":[-31.5,68.5]}},"y":{"field":"v","type":"quantitative"},"color":{"field":"group","type":"nominal","scale":{"domain":["WT IgG","WT AZ59","APP IgG","APP AZ59"],"range":["#000000","#bdbdbd","#f52f1c","#8a1f9a"]},"legend":null},"shape":{"field":"group","type":"nominal","scale":{"domain":["WT IgG","WT AZ59","APP IgG","APP AZ59"],"range":["circle","square","triangle-up","diamond"]},"legend":null}}},
{"data":{"values":[{"group":"WT IgG","lo":0.97,"hi":1.03},{"group":"WT AZ59","lo":0.97,"hi":1.05},{"group":"APP IgG","lo":1.19,"hi":1.31},{"group":"APP AZ59","lo":0.94,"hi":1.07}]},"layer":[{"mark":{"type":"rule","color":"#111","strokeWidth":1.5},"encoding":{"x":{"field":"group","type":"nominal","scale":{"type":"band"}},"y":{"field":"lo","type":"quantitative"},"y2":{"field":"hi"}}},{"mark":{"type":"tick","color":"#111","size":20,"thickness":1.5},"encoding":{"x":{"field":"group","type":"nominal","scale":{"type":"band"}},"y":{"field":"lo","type":"quantitative"}}},{"mark":{"type":"tick","color":"#111","size":20,"thickness":1.5},"encoding":{"x":{"field":"group","type":"nominal","scale":{"type":"band"}},"y":{"field":"hi","type":"quantitative"}}}]},
{"data":{"values":[{"from":"WT IgG","to":"APP IgG","y":2.02,"star":"**"}]},"layer":[{"mark":{"type":"rule","color":"#222","strokeWidth":1.5},"encoding":{"x":{"field":"from","type":"nominal","scale":{"type":"band"}},"x2":{"field":"to"},"y":{"field":"y","type":"quantitative"}}},{"mark":{"type":"text","fontSize":15,"fontWeight":"bold","color":"#222","dx":55,"dy":-12,"baseline":"middle"},"encoding":{"x":{"field":"from","type":"nominal","scale":{"type":"band"}},"y":{"field":"y","type":"quantitative"},"text":{"field":"star","type":"nominal"}}}]}
]},
{"resolve":{"scale":{"y":"independent"},"axis":{"y":"independent"}},"layer":[
{"resolve":{"scale":{"xOffset":"independent"}},"layer":[
{"data":{"values":[{"group":"WT IgG","mean":1.0},{"group":"WT AZ59","mean":1.03},{"group":"APP IgG","mean":1.3},{"group":"APP AZ59","mean":1.135}]},"mark":{"type":"bar","strokeWidth":2,"width":{"band":1}},"encoding":{"x":{"field":"group","type":"nominal","scale":{"type":"band","domain":["WT IgG","WT AZ59","APP IgG","APP AZ59"],"range":[476,707],"paddingInner":0.32,"paddingOuter":0.33},"axis":{"orient":"bottom","offset":-97,"labels":false,"title":null,"domainWidth":2,"domainColor":"#111","tickColor":"#111","tickWidth":1.5,"tickSize":5,"zindex":1}},"y":{"field":"mean","type":"quantitative","stack":null,"scale":{"domain":[0,2],"range":[1008,852],"nice":false},"axis":{"orient":"left","offset":-476,"values":[0,0.5,1,1.5,2],"format":".1f","domainWidth":2,"domainColor":"#111","tickColor":"#111","tickWidth":1.5,"tickSize":5,"labelFontSize":11,"labelFontWeight":"bold","labelColor":"#111","labelPadding":2,"zindex":1,"title":["pJNK T183/Y185","(Lower Band, Norm. to Total JNK)"],"titleFontSize":14,"titleFontWeight":"normal","titleColor":"#333","titleLineHeight":17,"titleX":-59,"titleY":930,"titleBaseline":"bottom"}},"fill":{"field":"group","type":"nominal","scale":{"domain":["WT IgG","WT AZ59","APP IgG","APP AZ59"],"range":["#707070","#e8e8e8","#ff9a90","#dd9cff"]},"legend":null},"stroke":{"field":"group","type":"nominal","scale":{"domain":["WT IgG","WT AZ59","APP IgG","APP AZ59"],"range":["#000000","#b8b8b8","#f52f1c","#8a1f9a"]},"legend":null}}},
{"data":{"values":[{"group":"WT IgG","v":1.33,"off":4.7},{"group":"WT IgG","v":1.28,"off":-9.3},{"group":"WT IgG","v":1.18,"off":-4.7},{"group":"WT IgG","v":1.18,"off":4.7},{"group":"WT IgG","v":1.14,"off":-11.7},{"group":"WT IgG","v":1.11,"off":-7.3},{"group":"WT IgG","v":1.09,"off":-2.3},{"group":"WT IgG","v":1.09,"off":2.7},{"group":"WT IgG","v":1.105,"off":7.7},{"group":"WT IgG","v":1.095,"off":11.7},{"group":"WT IgG","v":1.02,"off":-11.7},{"group":"WT IgG","v":1.035,"off":-6.7},{"group":"WT IgG","v":1.01,"off":0},{"group":"WT IgG","v":1.035,"off":6},{"group":"WT IgG","v":1.02,"off":12},{"group":"WT IgG","v":0.96,"off":-14},{"group":"WT IgG","v":0.94,"off":-9},{"group":"WT IgG","v":0.96,"off":-4},{"group":"WT IgG","v":0.94,"off":4.3},{"group":"WT IgG","v":0.94,"off":12.7},{"group":"WT IgG","v":0.865,"off":-14},{"group":"WT IgG","v":0.84,"off":-6.7},{"group":"WT IgG","v":0.81,"off":0},{"group":"WT IgG","v":0.82,"off":6},{"group":"WT IgG","v":0.755,"off":-9},{"group":"WT IgG","v":0.745,"off":9.3},{"group":"WT IgG","v":0.65,"off":0},
{"group":"WT AZ59","v":1.17,"off":0},{"group":"WT AZ59","v":1.08,"off":-14},{"group":"WT AZ59","v":1.08,"off":10},{"group":"WT AZ59","v":1.02,"off":-9.3},{"group":"WT AZ59","v":1.02,"off":-4.3},{"group":"WT AZ59","v":1.02,"off":4},{"group":"WT AZ59","v":1.02,"off":15.7},{"group":"WT AZ59","v":0.98,"off":-9.3},{"group":"WT AZ59","v":0.88,"off":0},{"group":"WT AZ59","v":0.96,"off":5.7},
{"group":"APP IgG","v":1.755,"off":0},{"group":"APP IgG","v":1.63,"off":-9.7},{"group":"APP IgG","v":1.54,"off":0},{"group":"APP IgG","v":1.56,"off":9.3},{"group":"APP IgG","v":1.36,"off":0},{"group":"APP IgG","v":1.29,"off":-11.7},{"group":"APP IgG","v":1.32,"off":-6},{"group":"APP IgG","v":1.29,"off":6.7},{"group":"APP IgG","v":1.29,"off":13.3},{"group":"APP IgG","v":1.195,"off":-5},{"group":"APP IgG","v":1.15,"off":0},{"group":"APP IgG","v":1.17,"off":5},{"group":"APP IgG","v":1.045,"off":0},{"group":"APP IgG","v":1.02,"off":-5},{"group":"APP IgG","v":0.925,"off":5},{"group":"APP IgG","v":0.835,"off":-4.7},
{"group":"APP AZ59","v":1.61,"off":0},{"group":"APP AZ59","v":1.39,"off":-9.3},{"group":"APP AZ59","v":1.37,"off":0},{"group":"APP AZ59","v":1.38,"off":9.3},{"group":"APP AZ59","v":1.225,"off":0},{"group":"APP AZ59","v":1.13,"off":-4.7},{"group":"APP AZ59","v":1.13,"off":4.7},{"group":"APP AZ59","v":1.095,"off":-8.7},{"group":"APP AZ59","v":1.13,"off":9.7},{"group":"APP AZ59","v":1.035,"off":0},{"group":"APP AZ59","v":0.89,"off":-4.7},{"group":"APP AZ59","v":0.88,"off":4.7},{"group":"APP AZ59","v":0.82,"off":4.7},{"group":"APP AZ59","v":0.555,"off":0}]},"mark":{"type":"point","filled":true,"size":34,"opacity":1},"encoding":{"x":{"field":"group","type":"nominal","scale":{"type":"band"}},"xOffset":{"field":"off","type":"quantitative","scale":{"domain":[-50,50],"range":[-31.9,68.1]}},"y":{"field":"v","type":"quantitative"},"color":{"field":"group","type":"nominal","scale":{"domain":["WT IgG","WT AZ59","APP IgG","APP AZ59"],"range":["#000000","#bdbdbd","#f52f1c","#8a1f9a"]},"legend":null},"shape":{"field":"group","type":"nominal","scale":{"domain":["WT IgG","WT AZ59","APP IgG","APP AZ59"],"range":["circle","square","triangle-up","diamond"]},"legend":null}}},
{"data":{"values":[{"group":"WT IgG","lo":0.97,"hi":1.03},{"group":"WT AZ59","lo":0.99,"hi":1.07},{"group":"APP IgG","lo":1.235,"hi":1.355},{"group":"APP AZ59","lo":1.06,"hi":1.205}]},"layer":[{"mark":{"type":"rule","color":"#111","strokeWidth":1.5},"encoding":{"x":{"field":"group","type":"nominal","scale":{"type":"band"}},"y":{"field":"lo","type":"quantitative"},"y2":{"field":"hi"}}},{"mark":{"type":"tick","color":"#111","size":20,"thickness":1.5},"encoding":{"x":{"field":"group","type":"nominal","scale":{"type":"band"}},"y":{"field":"lo","type":"quantitative"}}},{"mark":{"type":"tick","color":"#111","size":20,"thickness":1.5},"encoding":{"x":{"field":"group","type":"nominal","scale":{"type":"band"}},"y":{"field":"hi","type":"quantitative"}}}]},
{"data":{"values":[{"from":"WT IgG","to":"APP IgG","y":2.03,"star":"***"}]},"layer":[{"mark":{"type":"rule","color":"#222","strokeWidth":1.5},"encoding":{"x":{"field":"from","type":"nominal","scale":{"type":"band"}},"x2":{"field":"to"},"y":{"field":"y","type":"quantitative"}}},{"mark":{"type":"text","fontSize":15,"fontWeight":"bold","color":"#222","dx":58,"dy":-12,"baseline":"middle"},"encoding":{"x":{"field":"from","type":"nominal","scale":{"type":"band"}},"y":{"field":"y","type":"quantitative"},"text":{"field":"star","type":"nominal"}}}]}
]},
{"data":{"values":[{"group":"WT IgG","row":"APP/PS1","v":"-"},{"group":"WT AZ59","row":"APP/PS1","v":"-"},{"group":"APP IgG","row":"APP/PS1","v":"+"},{"group":"APP AZ59","row":"APP/PS1","v":"+"},{"group":"WT IgG","row":"Ctrl IgG (mg/kg)","v":"20"},{"group":"WT AZ59","row":"Ctrl IgG (mg/kg)","v":"0"},{"group":"APP IgG","row":"Ctrl IgG (mg/kg)","v":"20"},{"group":"APP AZ59","row":"Ctrl IgG (mg/kg)","v":"0"},{"group":"WT IgG","row":"AZ59 (mg/kg)","v":"0"},{"group":"WT AZ59","row":"AZ59 (mg/kg)","v":"20"},{"group":"APP IgG","row":"AZ59 (mg/kg)","v":"0"},{"group":"APP AZ59","row":"AZ59 (mg/kg)","v":"20"}]},"mark":{"type":"text","fontSize":13.8,"color":"#333","baseline":"middle"},"encoding":{"x":{"field":"group","type":"nominal","scale":{"type":"band"}},"y":{"field":"row","type":"nominal","scale":{"type":"point","padding":0,"domain":["APP/PS1","Ctrl IgG (mg/kg)","AZ59 (mg/kg)"],"range":[1049,1098]},"axis":{"orient":"left","offset":-476,"domain":false,"ticks":false,"tickSize":0,"labelPadding":29,"labelFontSize":13.8,"labelColor":"#333","labelLimit":300,"title":"F","titleAngle":0,"titleX":-111,"titleY":627,"titleAlign":"left","titleBaseline":"middle","titleFontSize":21,"titleFontWeight":"bold","titleColor":"#111"}},"text":{"field":"v","type":"nominal"}}}
]}
]}
